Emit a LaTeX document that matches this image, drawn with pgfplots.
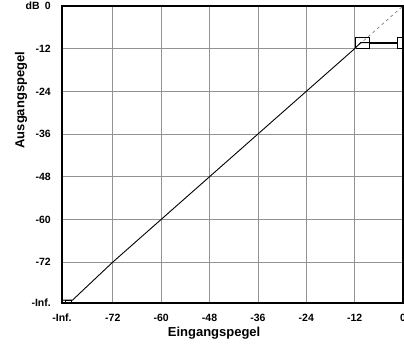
\documentclass[border=0pt]{standalone}
\usepackage{fontspec}
\setmainfont{Liberation Sans}
\usepackage{pgfplots}
\pgfplotsset{compat=1.18}
\begin{document}
\begin{tikzpicture}[x=1pt,y=1pt]
\useasboundingbox (0,0) rectangle (404,343);
\begin{axis}[
  at={(62pt,40pt)}, anchor=south west,
  scale only axis, width=341pt, height=297pt,
  xmin=-84.6, xmax=0, ymin=-83.5, ymax=0,
  xtick={-84.6,-72,-60,-48,-36,-24,-12,0},
  xticklabels={-Inf.,-72,-60,-48,-36,-24,-12,0},
  ytick={-83.5,-72,-60,-48,-36,-24,-12,0},
  yticklabels={-Inf.,-72,-60,-48,-36,-24,-12,dB\enspace 0},
  grid=major,
  major grid style={draw=gray!85, line width=0.7pt},
  major tick length=0pt,
  axis line style={line width=1.8pt},
  tick label style={font=\fontsize{10.5}{12}\selectfont\bfseries, inner sep=0pt},
  yticklabel style={xshift=-11pt},
  xticklabel style={yshift=-11pt},
  xlabel={Eingangspegel}, ylabel={Ausgangspegel},
  label style={font=\fontsize{13}{15}\selectfont\bfseries},
  xlabel style={at={(axis description cs:0.446,-0.101)}, anchor=center},
  ylabel style={at={(axis description cs:-0.12,0.683)}, anchor=center},
]
% dashed unity reference above threshold
\addplot[gray, line width=0.7pt, dash pattern=on 3pt off 3pt] coordinates {(-12,-12) (0,0)};
% transfer curve
\addplot[black, line width=0.9pt] coordinates {
  (-84.6,-82.7) (-82,-82.7) (-72,-72) (-60,-60) (-48,-48) (-36,-36) (-24,-24) (-12,-12) (-10.5,-10.3) (-8.4,-10.3)};
\addplot[black, line width=1.8pt] coordinates {(-8.4,-10.3) (-1.5,-10.3)};
% handles
\addplot[black, line width=0.8pt] coordinates {(-11.7,-11.8) (-11.7,-8.8) (-8.4,-8.8) (-8.4,-11.8) (-11.7,-11.8)};
\addplot[black, line width=0.8pt] coordinates {(-1.5,-11.8) (-1.5,-8.8) (0.5,-8.8) (0.5,-11.8) (-1.5,-11.8)};
\addplot[black, line width=0.6pt] coordinates {(-83.9,-83.8) (-83.9,-82.7) (-82.4,-82.7) (-82.4,-83.8)};
\end{axis}
\end{tikzpicture}
\end{document}
